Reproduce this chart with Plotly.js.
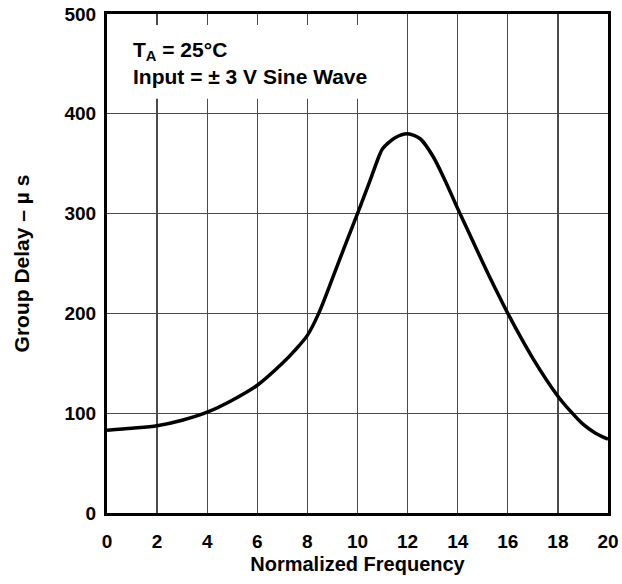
<!DOCTYPE html>
<html>
<head>
<meta charset="utf-8">
<script src="https://cdn.plot.ly/plotly-3.0.1.min.js"></script>
<style>html,body{margin:0;padding:0;background:#fff;}#chart{width:622px;height:584px;}</style>
</head>
<body>
<div id="chart"></div>
<script>
const freq = [0,1,2,3,4,5,6,7,7.5,8,8.45,9,9.5,10,10.5,10.85,11,11.5,12,12.5,13,13.5,14,14.5,15,15.5,16,17,18,18.5,19,19.5,20];
const delay = [83,85,87.5,93,101,113,128,150,163,178,200,235,268,300,333,357,365,376,380,375,358,333,305,278,251,225,200,155,117,102,89,80,74];
const xTicks = [0,2,4,6,8,10,12,14,16,18,20];
const yTicks = [0,100,200,300,400,500];
const noteLines = ["T<sub>A</sub> = 25°C", "Input = ± 3 V Sine Wave"];
const xTitle = "Normalized Frequency";
const yTitle = "Group Delay – µ s";

const fam = "Liberation Sans, Arial, sans-serif";

const trace = {
  x: freq, y: delay, type: "scatter", mode: "lines",
  line: {color: "#000", width: 3.5, shape: "spline", smoothing: 0.8},
  hoverinfo: "skip"
};

const layout = {
  width: 622, height: 584,
  margin: {l: 107, r: 14, t: 14, b: 71},
  paper_bgcolor: "#fff", plot_bgcolor: "#fff",
  showlegend: false,
  font: {family: fam, size: 19, color: "#000"},
  xaxis: {
    range: [0, 20], tickvals: xTicks, ticktext: xTicks.map(String),
    showgrid: true, gridcolor: "#4a4a4a", gridwidth: 1.3,
    zeroline: false, showline: true, linecolor: "#000", linewidth: 3, mirror: true,
    ticks: "", ticklabelstandoff: 9,
    tickfont: {family: fam, size: 19, color: "#000", weight: "bold"},
    title: {text: "<b>" + xTitle + "</b>", font: {family: fam, size: 20, color: "#000"}, standoff: 7}
  },
  yaxis: {
    range: [0, 500], tickvals: yTicks, ticktext: yTicks.map(String),
    showgrid: true, gridcolor: "#4a4a4a", gridwidth: 1.3,
    zeroline: false, showline: true, linecolor: "#000", linewidth: 3, mirror: true,
    ticks: "", ticklabelstandoff: 4,
    tickfont: {family: fam, size: 19, color: "#000", weight: "bold"},
    title: {text: "<b>" + yTitle + "</b>", font: {family: fam, size: 21, color: "#000"}, standoff: 30}
  },
  shapes: [{
    type: "rect", xref: "x", yref: "y", x0: 0, x1: 10.9, y0: 415, y1: 489,
    fillcolor: "#fff", line: {width: 0}, layer: "between"
  }],
  annotations: [{
    xref: "paper", yref: "paper", x: 0.048, y: 0.956, xanchor: "left", yanchor: "top",
    align: "left", showarrow: false,
    text: "<b>" + noteLines.join("<br>") + "</b>",
    font: {family: fam, size: 21, color: "#000"}
  }]
};

Plotly.newPlot("chart", [trace], layout, {staticPlot: true, displayModeBar: false});
</script>
</body>
</html>
